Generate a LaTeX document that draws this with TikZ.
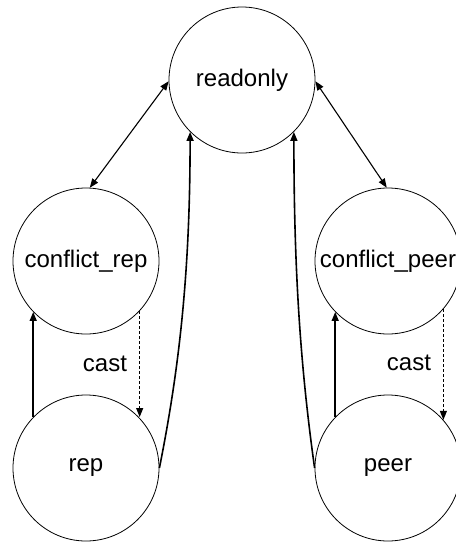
\documentclass[tikz,border=0pt]{standalone}
\usepackage{fontspec}
\setmainfont{Liberation Sans}
\usetikzlibrary{arrows.meta}
\begin{document}
\begin{tikzpicture}[x=1pt,y=-1pt,
  txt/.style={font=\fontsize{24}{28}\selectfont},
  state/.style={circle,draw,line width=0.8pt,minimum size=146pt,inner sep=0pt,txt},
  lbl/.style={inner sep=0pt,txt},
  tip/.style={Triangle[length=9pt,width=7pt]},
  link/.style={line width=1.1pt,{Triangle[length=9pt,width=7pt]}-{Triangle[length=9pt,width=7pt]}},
  flow/.style={line width=1.6pt,-{Triangle[length=9pt,width=7pt]}},
  castflow/.style={line width=1.1pt,dashed,dash pattern=on 3pt off 2pt,-{Triangle[length=9pt,width=7pt]}}
]
\useasboundingbox (0,0) rectangle (456,542);

% states
\node[state] (readonly) at (242,80) {readonly};
\node[state] (crep) at (86,261) {conflict\_rep};
\node[state] (cpeer) at (388,261) {conflict\_peer};
\node[state] (rep) at (86,468) {rep};
\node[state] (peer) at (388,468) {peer};

% readonly <-> conflict states
\draw[link] (readonly.181) -- (crep.87);
\draw[link] (readonly.-1) -- (cpeer.91);

% rep side
\draw[flow] (rep.136) -- (rep.136 |- crep.224);
\draw[castflow] (crep.-43) -- (crep.-43 |- rep.44);
\node[lbl] (castrep) at (105,364) {cast};

% peer side
\draw[flow] (peer.136) -- (peer.136 |- cpeer.224);
\draw[castflow] (cpeer.-41) -- (cpeer.-41 |- peer.41);
\node[lbl] (castpeer) at (409,363) {cast};

% back to readonly
\draw[flow] (rep.0) .. controls +(20,-100) and +(0,140) .. (readonly.225);
\draw[flow] (peer.180) .. controls +(-14,-100) and +(0,140) .. (readonly.-45);
\end{tikzpicture}
\end{document}
